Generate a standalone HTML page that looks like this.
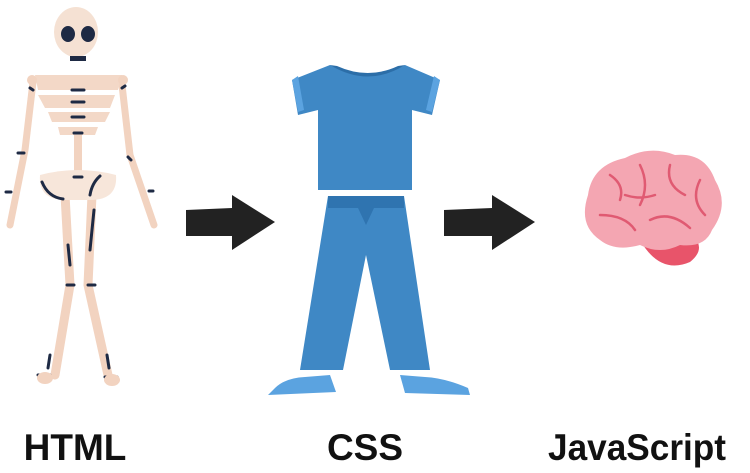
<!DOCTYPE html>
<html><head><meta charset="utf-8"><style>
html,body{margin:0;padding:0;background:#fff;width:750px;height:473px;overflow:hidden}
svg{display:block}
text{font-family:"Liberation Sans",sans-serif;font-weight:bold;fill:#111}
</style></head><body>
<svg width="750" height="473" viewBox="0 0 750 473">
<g>
  <g stroke="#f2d3c0" stroke-linecap="round" fill="none">
    <path d="M33 82 L25 150 L10 225" stroke-width="7"/>
    <path d="M122 85 L130 155 L154 225" stroke-width="7"/>
    <path d="M78 135 L78 175" stroke-width="8"/>
    <path d="M65 195 L70 285 L55 375" stroke-width="9"/>
    <path d="M92 195 L88 285 L108 375" stroke-width="9"/>
  </g>
  <ellipse cx="76" cy="32" rx="22" ry="25" fill="#f5e1d3"/>
  <ellipse cx="68" cy="34" rx="7" ry="8" fill="#1e2a44"/>
  <ellipse cx="88" cy="34" rx="7" ry="8" fill="#1e2a44"/>
  <rect x="70" y="56" width="16" height="5" fill="#1e2a44"/>
  <g fill="#f3d8c7">
    <path d="M35 75 L122 75 L118 90 L38 90 Z"/>
    <path d="M38 95 L115 95 L110 108 L45 108 Z"/>
    <path d="M48 112 L110 112 L105 122 L52 122 Z"/>
    <path d="M58 127 L98 127 L95 135 L60 135 Z"/>
  </g>
  <circle cx="32" cy="80" r="5" fill="#f2d3c0"/><circle cx="123" cy="80" r="5" fill="#f2d3c0"/>
  <path d="M40 175 Q78 165 116 175 Q118 200 90 200 L66 200 Q38 200 40 175 Z" fill="#f7e6da"/>
  <g stroke="#1e2a44" stroke-width="3" stroke-linecap="round" fill="none">
    <path d="M72 90 H84 M72 102 H84 M72 117 H84 M74 133 H82 M74 177 H82"/>
    <path d="M42 182 Q48 197 63 199 M100 176 Q92 183 90 195"/>
    <path d="M94 210 L90 250 M68 245 L70 265 M67 285 H74 M88 285 H95 M50 355 L48 368 M107 355 L109 368"/>
    <path d="M18 153 H24 M128 157 L131 160 M6 192 H11 M149 191 H153 M30 88 L33 90 M122 88 L125 86"/>
    <path d="M38 375 H50 M105 377 H117"/>
  </g>
  <ellipse cx="45" cy="378" rx="8" ry="6" fill="#f2d3c0"/><ellipse cx="112" cy="380" rx="8" ry="6" fill="#f2d3c0"/>
</g>
<g>
  <path d="M186 210 L232 208 L232 195 L275 222 L232 250 L232 236 L186 236 Z" fill="#222"/>
</g>
<g>
  <path d="M330 65 Q368 85 405 65 L440 80 L432 115 L412 110 L412 190 L318 190 L318 110 L298 115 L292 80 Z" fill="#3f88c5"/>
  <path d="M292 80 L298 112 L304 110 L298 76 Z M440 80 L432 112 L426 110 L434 76 Z" fill="#5ba3e0"/>
  <path d="M330 65 Q368 88 405 65 L398 66 Q368 80 337 66 Z" fill="#2c6ea8"/>
</g>
<g>
  <path d="M328 196 L404 196 L430 370 L390 370 L366 255 L343 370 L300 370 Z" fill="#3f88c5"/>
  <rect x="328" y="196" width="76" height="12" fill="#2f74b0"/>
  <path d="M358 208 L374 208 L366 225 Z" fill="#2f74b0"/>
</g>
<g>
  <path d="M275 388 Q285 378 305 377 L330 375 L336 392 L268 395 Z" fill="#5ba3e0"/>
  <path d="M400 375 L425 377 Q445 378 468 388 L470 395 L405 393 Z" fill="#5ba3e0"/>
</g>
<g>
  <path d="M444 210 L492 208 L492 195 L535 222 L492 250 L492 236 L444 236 Z" fill="#222"/>
</g>
<g>
  <path d="M640 240 Q660 275 690 262 Q705 250 695 238 Z" fill="#e8546a"/>
  <path d="M600 240 Q578 225 588 195 Q592 165 625 158 Q650 145 675 155 Q705 152 715 180 Q730 205 712 230 Q705 248 680 245 Q660 255 640 245 Q615 252 600 240 Z" fill="#f4a6b2"/>
  <g stroke="#e05a72" stroke-width="2.5" fill="none" stroke-linecap="round">
    <path d="M610 175 Q625 185 620 200 M640 165 Q650 185 640 205 M670 165 Q665 185 685 195 M700 180 Q690 200 705 215 M600 215 Q625 215 635 230 M650 220 Q670 210 690 228 M625 195 Q640 200 655 195"/>
  </g>
</g>
<text x="75" y="460" font-size="37" text-anchor="middle">HTML</text>
<text x="365" y="460" font-size="37" text-anchor="middle">CSS</text>
<text x="637" y="460" font-size="37" text-anchor="middle" textLength="178" lengthAdjust="spacingAndGlyphs">JavaScript</text>
</svg>
</body></html>
